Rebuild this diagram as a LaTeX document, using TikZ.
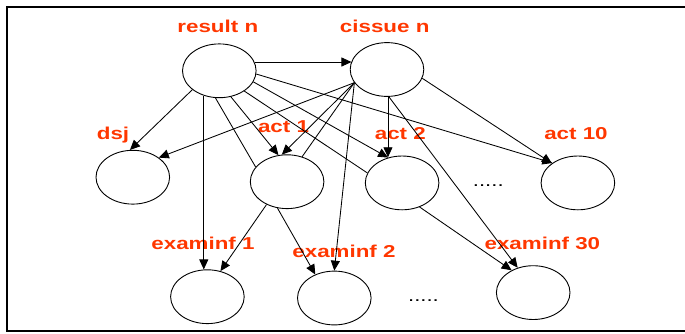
\documentclass[tikz,border=0pt]{standalone}
\usepackage{fontspec}
\setmainfont{Liberation Sans}
\usetikzlibrary{arrows.meta,shapes.geometric}
\definecolor{lab}{RGB}{255,55,0}
\newcommand\stretchtxt[1]{\scalebox{1.3}[1]{#1}}
\begin{document}
\begin{tikzpicture}[x=1pt,y=-1pt,
  st/.style={ellipse,draw,line width=0.9pt,minimum width=73.6pt,minimum height=53.8pt,inner sep=0pt},
  lbl/.style={anchor=base,inner sep=0pt,text=lab,font=\fontsize{17.2}{20}\selectfont\bfseries},
  arr/.style={line width=0.85pt,-{Triangle[length=10pt,width=9pt]}},
  ln/.style={line width=0.85pt},
  dotsty/.style={anchor=base,inner sep=0pt,font=\fontsize{17}{20}\selectfont}]
\useasboundingbox (0,0) rectangle (685,333);
\draw[line width=2.3pt] (686,7) -- (7,7) -- (7,331) -- (686,331);
% nodes
\node[st] (res) at (219.3,70.8) {};
\node[st] (cis) at (387,69.5) {};
\node[st] (dsj) at (132.8,177.2) {};
\node[st] (a1)  at (287.1,181.7) {};
\node[st] (a2)  at (402.1,182.9) {};
\node[st] (a10) at (577.9,182.9) {};
\node[st] (e1)  at (207.4,296.7) {};
\node[st] (e2)  at (334.3,298) {};
\node[st] (e30) at (533.2,292.6) {};
% labels
\node[lbl] (lres) at (217.8,32.5) {\stretchtxt{result n}};
\node[lbl] (lcis) at (384.7,32.8) {\stretchtxt{cissue n}};
\node[lbl] (ldsj) at (113,139.5) {\stretchtxt{dsj}};
\node[lbl] (la1)  at (283.5,132.5) {\stretchtxt{act 1}};
\node[lbl] (la2)  at (400.3,139.5) {\stretchtxt{act 2}};
\node[lbl] (la10) at (576,139.5) {\stretchtxt{act 10}};
\node[lbl] (le1)  at (203,249.5) {\stretchtxt{examinf 1}};
\node[lbl] (le2)  at (344,257) {\stretchtxt{examinf 2}};
\node[lbl] (le30) at (542.4,249.3) {\stretchtxt{examinf 30}};
\node[dotsty] (d1) at (488.3,186.8) {\stretchtxt{.....}};
\node[dotsty] (d2) at (423.5,301) {\stretchtxt{.....}};
% connectors from result n
\draw[arr] (res.14) -- (res.14 -| cis.167);
\draw[arr] (res.215) -- (dsj.96);
\draw[arr] (res.238) -- (res.238 |- e1.96);
\draw[arr] (res.294) -- (a1.108);
\draw[ln]  (res.262) -- (a1.155);
\draw[arr] (res.342) -- (a2.119);
\draw[ln]  (res.321) -- (a2.164);
\draw[arr] (res.355) -- (a10.142);
% connectors from cissue n
\draw[arr] (cis.202) -- (dsj.37);
\draw[arr] (cis.202) -- (a1.101);
\draw[ln]  (cis.202) -- (a1.59);
\draw[arr] (cis.202) -- (e2.90);
\draw[arr] (cis.272) -- (cis.272 |- a2.117);
\draw[arr] (cis.274) -- (e30.122);
\draw[arr] (cis.346) -- (a10.143);
% connectors from act nodes
\draw[arr] (a1.228) -- (e1.63);
\draw[arr] (a1.250) -- (e2.129);
\draw[arr] (a2.306) -- (e30.134);
\end{tikzpicture}
\end{document}
